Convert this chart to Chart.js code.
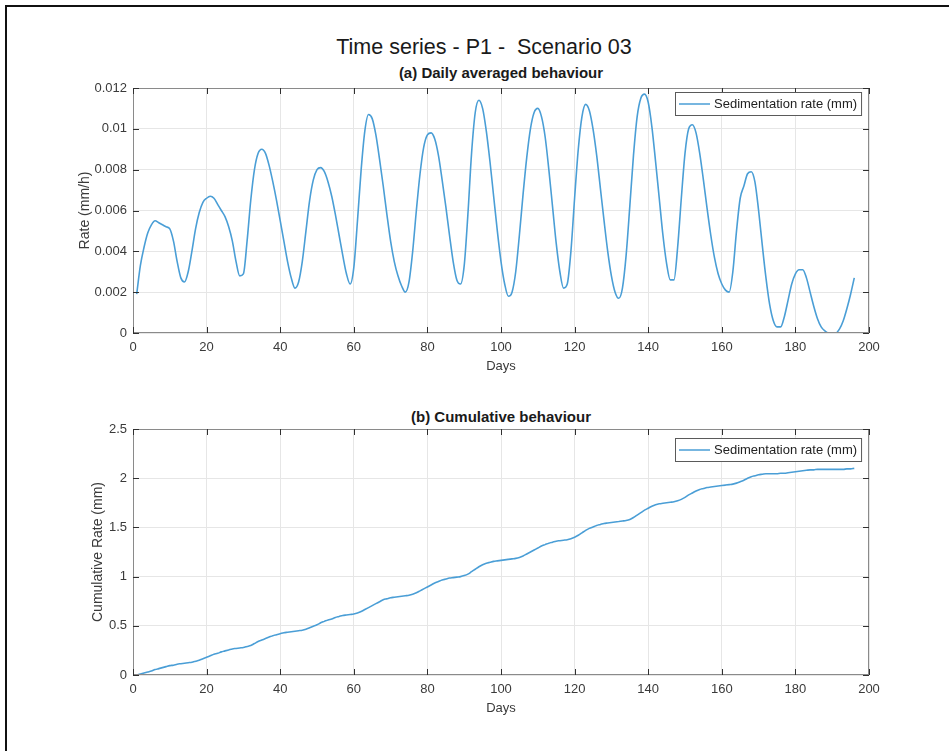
<!DOCTYPE html>
<html>
<head>
<meta charset="utf-8">
<script src="https://cdn.jsdelivr.net/npm/chart.js@4.4.1/dist/chart.umd.min.js"></script>
<style>
  body { margin: 0; background: #fff; width: 949px; height: 751px; overflow: hidden; position: relative; font-family: 'Liberation Sans', Arial, sans-serif; }
  .frame { position: absolute; left: 5px; top: 5px; width: 2000px; height: 2000px; border-left: 2px solid #111; border-top: 2px solid #111; }
  .txt { position: absolute; text-align: center; color: #1a1a1a; white-space: pre; }
  #mainTitle { left: 234px; width: 500px; top: 35px; font-size: 21.5px; line-height: 24px; }
  .sub { left: 301px; width: 400px; font-size: 15px; font-weight: bold; line-height: 18px; }
  .box { position: absolute; left: 0; width: 949px; }
</style>
</head>
<body>
<div class="frame"></div>
<div class="txt" id="mainTitle">Time series - P1 -  Scenario 03</div>
<div class="txt sub" style="top:64px">(a) Daily averaged behaviour</div>
<div class="txt sub" style="top:408px">(b) Cumulative behaviour</div>
<div class="box" style="top:0;height:390px"><canvas id="rateChart"></canvas></div>
<div class="box" style="top:390px;height:342px"><canvas id="cumChart"></canvas></div>
<script>
// days 1..196
const days = Array.from({ length: 196 }, (_, i) => i + 1);

// daily averaged sedimentation rate (mm/h)
const rate = [
  0.0019, 0.0033, 0.0042, 0.0049, 0.0053, 0.0055, 0.0054, 0.0053, 0.0052, 0.0051,
  0.0045, 0.0035, 0.0027, 0.0025, 0.0030, 0.0040, 0.0051, 0.0059, 0.0064, 0.0066,
  0.0067, 0.0066, 0.0063, 0.0060, 0.0057, 0.0052, 0.0045, 0.0035, 0.0028, 0.0029,
  0.0045, 0.0065, 0.0080, 0.0088, 0.0090, 0.0088, 0.0082, 0.0074, 0.0065, 0.0055,
  0.0045, 0.0035, 0.0027, 0.0022, 0.0025, 0.0035, 0.0050, 0.0065, 0.0075, 0.0080,
  0.0081, 0.0079, 0.0074, 0.0067, 0.0058, 0.0048, 0.0038, 0.0029, 0.0024, 0.0032,
  0.0055, 0.0080, 0.0099, 0.0107, 0.0105, 0.0097, 0.0085, 0.0072, 0.0058, 0.0045,
  0.0035, 0.0028, 0.0023, 0.0020, 0.0025, 0.0040, 0.0060, 0.0078, 0.0091, 0.0097,
  0.0098, 0.0095, 0.0087, 0.0075, 0.0062, 0.0048, 0.0035, 0.0026, 0.0024, 0.0033,
  0.0058, 0.0088, 0.0108, 0.0114, 0.0110, 0.0099, 0.0084, 0.0067, 0.0050, 0.0035,
  0.0024, 0.0018, 0.0020, 0.0030, 0.0048, 0.0068, 0.0086, 0.0100, 0.0108, 0.0110,
  0.0106, 0.0096, 0.0080, 0.0062, 0.0044, 0.0030, 0.0022, 0.0024, 0.0040, 0.0066,
  0.0090, 0.0106, 0.0112, 0.0109, 0.0100, 0.0087, 0.0071, 0.0055, 0.0040, 0.0028,
  0.0020, 0.0017, 0.0022, 0.0038, 0.0062, 0.0087, 0.0106, 0.0115, 0.0117, 0.0113,
  0.0101, 0.0084, 0.0066, 0.0048, 0.0034, 0.0026, 0.0026, 0.0042, 0.0066, 0.0088,
  0.0100, 0.0102, 0.0098, 0.0088, 0.0075, 0.0061, 0.0048, 0.0037, 0.0029, 0.0024,
  0.0021, 0.0020, 0.0030, 0.0050, 0.0066, 0.0072, 0.0078, 0.0079, 0.0074, 0.0060,
  0.0043, 0.0027, 0.0014, 0.0006, 0.0003, 0.0003, 0.0008, 0.0016, 0.0024, 0.0029,
  0.0031, 0.0031, 0.0027, 0.0020, 0.0013, 0.0007, 0.0003, 0.0001, 0.0000, 0.0000,
  0.0000, 0.0002, 0.0006, 0.0012, 0.0019, 0.0027
];

// cumulative sedimentation (mm)
const cumulative = [
  0.000, 0.010, 0.020, 0.030, 0.040, 0.055, 0.065, 0.075, 0.085, 0.095,
  0.100, 0.110, 0.115, 0.120, 0.125, 0.130, 0.140, 0.150, 0.165, 0.180,
  0.195, 0.210, 0.220, 0.235, 0.245, 0.255, 0.265, 0.270, 0.275, 0.280,
  0.290, 0.300, 0.320, 0.340, 0.355, 0.370, 0.385, 0.400, 0.410, 0.420,
  0.430, 0.435, 0.440, 0.445, 0.450, 0.455, 0.465, 0.480, 0.495, 0.510,
  0.530, 0.545, 0.560, 0.570, 0.585, 0.595, 0.605, 0.610, 0.615, 0.620,
  0.630, 0.645, 0.665, 0.685, 0.705, 0.725, 0.745, 0.765, 0.775, 0.785,
  0.790, 0.795, 0.800, 0.805, 0.810, 0.820, 0.835, 0.855, 0.875, 0.895,
  0.915, 0.935, 0.950, 0.965, 0.975, 0.985, 0.990, 0.995, 1.000, 1.010,
  1.025, 1.050, 1.075, 1.100, 1.120, 1.135, 1.145, 1.155, 1.160, 1.165,
  1.170, 1.175, 1.180, 1.185, 1.195, 1.210, 1.230, 1.250, 1.270, 1.290,
  1.310, 1.325, 1.340, 1.350, 1.360, 1.365, 1.370, 1.375, 1.385, 1.400,
  1.420, 1.445, 1.470, 1.490, 1.505, 1.520, 1.530, 1.540, 1.545, 1.550,
  1.555, 1.560, 1.565, 1.570, 1.580, 1.600, 1.625, 1.650, 1.675, 1.695,
  1.715, 1.730, 1.740, 1.745, 1.750, 1.755, 1.760, 1.770, 1.785, 1.805,
  1.830, 1.850, 1.870, 1.885, 1.895, 1.905, 1.910, 1.915, 1.920, 1.925,
  1.930, 1.935, 1.940, 1.950, 1.965, 1.980, 2.000, 2.015, 2.025, 2.035,
  2.040, 2.045, 2.045, 2.045, 2.045, 2.050, 2.050, 2.055, 2.060, 2.065,
  2.070, 2.075, 2.080, 2.085, 2.085, 2.090, 2.090, 2.090, 2.090, 2.090,
  2.090, 2.090, 2.090, 2.095, 2.095, 2.100
];

const xTicks = [0, 20, 40, 60, 80, 100, 120, 140, 160, 180, 200];
const rateTicks = [0, 0.002, 0.004, 0.006, 0.008, 0.01, 0.012];
const cumTicks = [0, 0.5, 1, 1.5, 2, 2.5];

const seriesLabel = 'Sedimentation rate (mm)';
const lineColor = '#4a9ed6';
const FONT = "'Liberation Sans', Arial, sans-serif";
const textGray = '#3a3a3a';

// matlab-like box with inward ticks and legend
const matlabAxes = {
  id: 'matlabAxes',
  afterDraw(chart, args, opts) {
    const { ctx, chartArea: a } = chart;
    const xs = chart.scales.x, ys = chart.scales.y;
    ctx.save();
    ctx.strokeStyle = '#8a8a8a';
    ctx.lineWidth = 1;
    ctx.strokeRect(a.left + 0.5, a.top + 0.5, a.right - a.left - 1, a.bottom - a.top - 1);
    ctx.strokeStyle = '#303030';
    ctx.beginPath();
    xs.ticks.forEach(t => {
      const px = Math.round(xs.getPixelForValue(t.value)) + 0.5;
      ctx.moveTo(px, a.bottom); ctx.lineTo(px, a.bottom - 6);
      ctx.moveTo(px, a.top); ctx.lineTo(px, a.top + 6);
    });
    ys.ticks.forEach(t => {
      const py = Math.round(ys.getPixelForValue(t.value)) + 0.5;
      ctx.moveTo(a.left, py); ctx.lineTo(a.left + 6, py);
      ctx.moveTo(a.right, py); ctx.lineTo(a.right - 6, py);
    });
    ctx.stroke();

    // legend box
    const label = chart.data.datasets[0].label;
    ctx.font = '13px ' + FONT;
    const tw = ctx.measureText(label).width;
    const w = tw + 43, h = 23;
    const bx = Math.round(a.right - 8 - w), by = a.top + opts.legendTop;
    ctx.fillStyle = '#fff';
    ctx.fillRect(bx, by, w, h);
    ctx.strokeStyle = '#5a5a5a';
    ctx.strokeRect(bx + 0.5, by + 0.5, w, h);
    ctx.strokeStyle = lineColor;
    ctx.lineWidth = 1.5;
    ctx.beginPath();
    ctx.moveTo(bx + 4, by + h / 2 + 0.5); ctx.lineTo(bx + 35, by + h / 2 + 0.5);
    ctx.stroke();
    ctx.fillStyle = '#222';
    ctx.textBaseline = 'middle';
    ctx.fillText(label, bx + 39, by + h / 2 + 1);
    ctx.restore();
  }
};

function makeChart(id, values, yTicks, yMax, yTitle, yTitleOffset, padTop, legendTop) {
  return new Chart(document.getElementById(id), {
    type: 'line',
    data: {
      datasets: [{
        label: seriesLabel,
        data: days.map((d, i) => ({ x: d, y: values[i] })),
        borderColor: lineColor,
        borderWidth: 1.6,
        pointRadius: 0,
        cubicInterpolationMode: 'monotone',
        fill: false
      }]
    },
    options: {
      responsive: true,
      maintainAspectRatio: false,
      animation: false,
      layout: { padding: { top: padTop, left: 0, right: 80, bottom: 0 } },
      plugins: {
        legend: { display: false },
        tooltip: { enabled: false },
        matlabAxes: { legendTop: legendTop }
      },
      scales: {
        x: {
          type: 'linear',
          min: 0, max: 200,
          afterBuildTicks: s => { s.ticks = xTicks.map(v => ({ value: v })); },
          afterFit: s => { s.height = 57; },
          grid: { color: '#e6e6e6', drawTicks: false },
          border: { display: false },
          ticks: { padding: 7, color: textGray, font: { family: FONT, size: 13 }, maxRotation: 0 },
          title: { display: true, text: 'Days', color: textGray, font: { family: FONT, size: 13 }, padding: { top: 0, bottom: 16 } }
        },
        y: {
          min: 0, max: yMax,
          afterBuildTicks: s => { s.ticks = yTicks.map(v => ({ value: v })); },
          afterFit: s => { s.width = 133; },
          grid: { color: '#e6e6e6', drawTicks: false },
          border: { display: false },
          ticks: {
            padding: 6, color: textGray, font: { family: FONT, size: 13 },
            callback: v => String(+v.toFixed(3))
          },
          title: { display: true, text: yTitle, color: textGray, font: { family: FONT, size: 14 }, padding: { top: yTitleOffset, bottom: 0 } }
        }
      }
    },
    plugins: [matlabAxes]
  });
}

makeChart('rateChart', rate, rateTicks, 0.012, 'Rate (mm/h)', 77, 88, 4);
makeChart('cumChart', cumulative, cumTicks, 2.5, 'Cumulative Rate (mm)', 90, 39, 9);
</script>
</body>
</html>
